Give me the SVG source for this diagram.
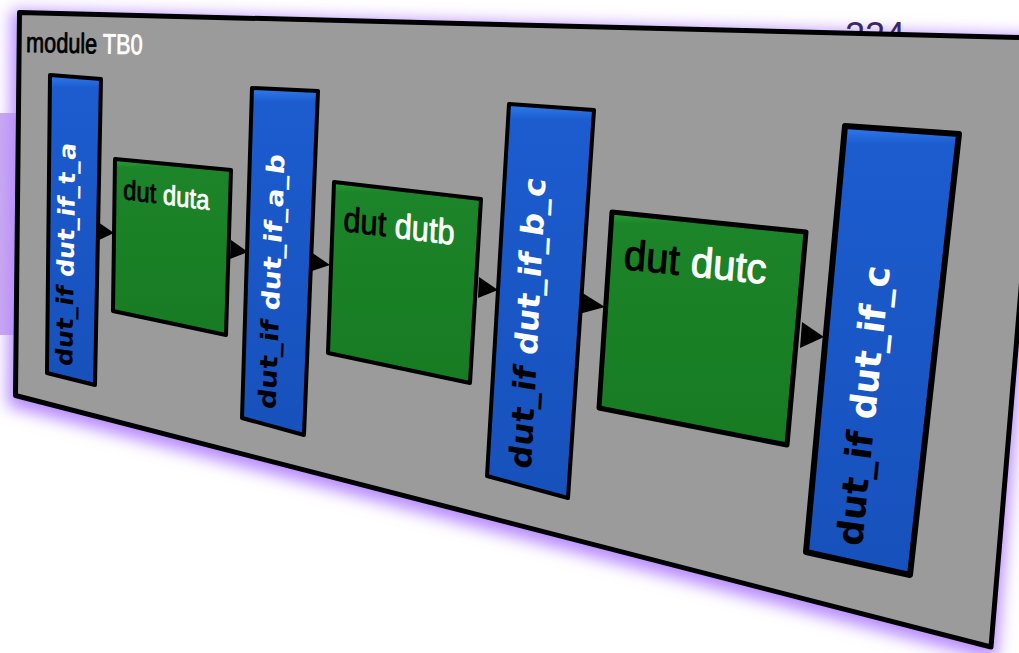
<svg xmlns="http://www.w3.org/2000/svg" width="1019" height="653" viewBox="0 0 1019 653">
<defs>
<style>
.panel{fill:#9b9b9b;stroke:#000;stroke-width:5;stroke-linejoin:round}
.blue{fill:url(#gBlue);stroke:#000;stroke-width:4;stroke-linejoin:round}
.green{fill:url(#gGreen);stroke:#000;stroke-width:4;stroke-linejoin:round}
.arrow{fill:#000}
.tb{font-family:"DejaVu Sans","Liberation Sans",sans-serif;font-weight:bold}
.tg{font-family:"Liberation Sans",Arial,sans-serif;stroke-width:0.8;stroke-linejoin:round}
.blk{fill:#000;stroke:#000}
.wht{fill:#fff;stroke:#fff}
.tb .blk,.tb .wht{stroke:none}
</style>
<linearGradient id="gBlue" x1="0" y1="0" x2="0" y2="1">
<stop offset="0" stop-color="#2f7cf0"/>
<stop offset="0.04" stop-color="#1c5ccf"/>
<stop offset="1" stop-color="#1751bb"/>
</linearGradient>
<linearGradient id="gGreen" x1="0" y1="0" x2="0" y2="1">
<stop offset="0" stop-color="#2aa336"/>
<stop offset="0.05" stop-color="#1c8429"/>
<stop offset="1" stop-color="#177b22"/>
</linearGradient>
<filter id="glow" x="-10%" y="-15%" width="120%" height="130%">
<feGaussianBlur stdDeviation="8"/>
</filter>
</defs>
<rect width="1019" height="653" fill="#fff"/>
<rect x="0" y="113" width="24" height="222" fill="#c8aaee"/>
<polygon points="19.5,12.5 1042,38 991,647 15.5,395.5" fill="#b88aff" stroke="#b88aff" stroke-width="14" filter="url(#glow)" transform="translate(-1,5)"/>
<text x="845" y="48" font-size="36" fill="#3d2762" font-family="Liberation Sans, Arial, sans-serif">224</text>
<g id="module-TB0">
<polygon class="panel" points="19.5,12.5 1042,38 991,647 15.5,395.5"/>
<text class="tg" font-size="28" transform="matrix(0.775,0.0155,-0.0103,1,26,52)"><tspan class="blk">module</tspan><tspan class="wht"> TB0</tspan></text>
</g>
<g id="connectors">
<polygon class="arrow" points="98,222 97,241 114,233"/>
<polygon class="arrow" points="231,240 230,259 248,252"/>
<polygon class="arrow" points="311,252 309,272 330,265"/>
<polygon class="arrow" points="479,277 478,298 498,290"/>
<polygon class="arrow" points="581,292 579,314 605,307"/>
<polygon class="arrow" points="802,322 800,348 824,337"/>
</g>
<g id="dut_if_t_a">
<polygon class="blue" points="50,75 101,79 95,385 47,373"/>
<text class="tb" font-size="24" transform="matrix(0.0154,-1.05,0.96,0.144,72.2,367)"><tspan class="blk">dut_if</tspan><tspan class="wht"> dut_if_t_a</tspan></text>
</g>
<g id="duta">
<polygon class="green" points="115,159 231,170 226,335 113,311"/>
<text class="tg" font-size="27" transform="matrix(0.883,0.112,-0.022,1.03,123,199)"><tspan class="blk">dut</tspan><tspan class="wht"> duta</tspan></text>
</g>
<g id="dut_if_a_b">
<polygon class="blue" points="252,88 318,91 304,435 242,418"/>
<text class="tb" font-size="26" transform="matrix(0.038,-1.076,0.93,0.136,275.5,410)"><tspan class="blk">dut_if</tspan><tspan class="wht"> dut_if_a_b</tspan></text>
</g>
<g id="dutb">
<polygon class="green" points="334,182 481,199 470,383 328,353"/>
<text class="tg" font-size="35" transform="matrix(0.878,0.11,-0.047,1,343,231)"><tspan class="blk">dut</tspan><tspan class="wht"> dutb</tspan></text>
</g>
<g id="dut_if_b_c">
<polygon class="blue" points="509,104 594,110 568,498 487,476"/>
<text class="tb" font-size="31" transform="matrix(0.052,-1.04,0.987,0.159,531,470)"><tspan class="blk">dut_if</tspan><tspan class="wht"> dut_if_b_c</tspan></text>
</g>
<g id="dutc">
<polygon class="green" points="612,212 806,232 787,445 599,408" style="stroke-width:5"/>
<text class="tg" font-size="42" transform="matrix(0.955,0.1,-0.077,1,623,269)" style="stroke-width:1"><tspan class="blk">dut</tspan><tspan class="wht"> dutc</tspan></text>
</g>
<g id="dut_if_c">
<polygon class="blue" points="845,126 959,134 910,575 806,552" style="stroke-width:6"/>
<text class="tb" font-size="36" transform="matrix(0.0995,-0.995,0.991,0.134,862,547)"><tspan class="blk">dut_if</tspan><tspan class="wht"> dut_if_c</tspan></text>
</g>
</svg>
